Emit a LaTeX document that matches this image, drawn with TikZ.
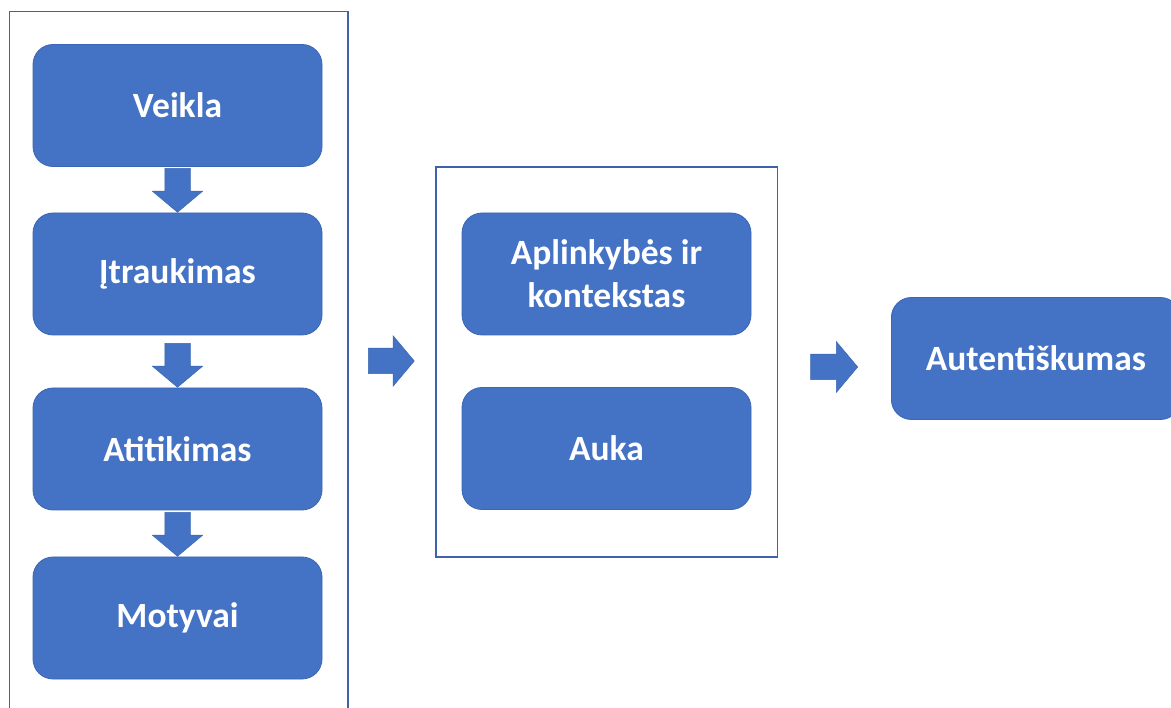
\documentclass[tikz,border=0pt]{standalone}
\usepackage{fontspec}
\setmainfont{Carlito}
\usetikzlibrary{shapes.arrows,calc}
\definecolor{boxblue}{HTML}{4472C4}
\definecolor{edgeblue}{HTML}{3A66B4}
\definecolor{framblue}{HTML}{3F63A8}
\tikzset{
  stepbox/.style={rectangle, rounded corners=20pt, fill=boxblue, draw=edgeblue,
    line width=0.8pt, text=white, font=\bfseries\fontsize{35.5}{43}\selectfont,
    minimum width=289pt, minimum height=122pt, align=center, inner sep=0pt},
  frame/.style={draw=framblue, line width=1.4pt},
  blockarrow/.style={single arrow, fill=boxblue, draw=edgeblue, line width=0.5pt,
    inner xsep=0pt, inner ysep=12.5pt, single arrow head extend=12.5pt,
    single arrow tip angle=100, minimum height=44pt, anchor=tip},
  downarrow/.style={blockarrow, rotate=-90}
}
\begin{document}
\begin{tikzpicture}[x=1pt,y=-1pt]
\useasboundingbox (0,0) rectangle (1171,708);
\fill[white] (0,0) rectangle (1171,708);

% group frames
\draw[frame] (9.5,720) -- (9.5,11.5) -- (348,11.5) -- (348,720);
\draw[frame] (436,167) rectangle (777.5,557);

% left column
\node[stepbox] (veikla) at (177.5,105.5) {Veikla};
\node[stepbox] (itrauk) at (177.5,274) {Įtraukimas};
\node[stepbox] (atitik) at (177.5,449) {Atitikimas};
\node[stepbox] (motyv) at (177.5,618) {Motyvai};

\node[downarrow] (d1) at (itrauk.north) {};
\node[downarrow] (d2) at (atitik.north) {};
\node[downarrow] (d3) at (motyv.north) {};

% middle column
\node[stepbox] (aplink) at (606.5,274) {Aplinkybės ir\\kontekstas};
\node[stepbox] (auka) at (606.5,448.5) {Auka};

% result
\node[stepbox, anchor=west] (autent) at (891,358.5) {Autentiškumas};

\node[blockarrow, minimum height=46pt] (r1) at ($(aplink.west|-0,361)+(-47,0)$) {};
\node[blockarrow, minimum height=47pt] (r2) at ($(autent.west)+(-33,8.5)$) {};
\end{tikzpicture}
\end{document}
